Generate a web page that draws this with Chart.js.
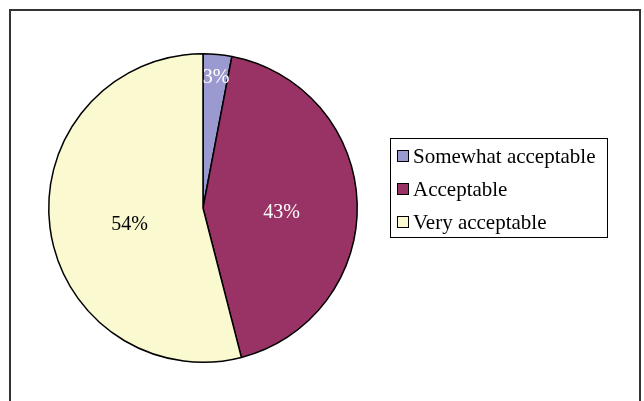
<!DOCTYPE html>
<html>
<head>
<meta charset="utf-8">
<script src="https://cdn.jsdelivr.net/npm/chart.js@4.4.1/dist/chart.umd.min.js"></script>
<style>
  html, body { margin: 0; padding: 0; background: #fff; }
  #marco { position: absolute; left: 9px; top: 9px; width: 628px; height: 420px;
           border: 2px solid #333; border-bottom: none; }
  #wrap { position: absolute; left: 0; top: 0; width: 644px; height: 401px; }
</style>
</head>
<body>
<div id="marco"></div>
<div id="wrap"><canvas id="grafico" width="644" height="401"></canvas></div>
<script>
// datos del grafico
var categorias = ['Somewhat acceptable', 'Acceptable', 'Very acceptable'];
var porcentajes = [3, 43, 54];
var colores = ['#9a9ad0', '#993366', '#fbf9d0'];
var coloresTexto = ['#ffffff', '#ffffff', '#000000'];
// distancia relativa de cada etiqueta al centro
var radioEtiqueta = [0.895, 0.51, 0.48];

var fuente = '"Liberation Serif", "Times New Roman", serif';

// etiquetas de porcentaje dentro de cada porcion
var pluginEtiquetas = {
    id: 'etiquetas',
    afterDatasetsDraw: function(chart){
        var ctx = chart.ctx;
        var meta = chart.getDatasetMeta(0);
        ctx.save();
        ctx.font = '20px ' + fuente;
        ctx.textAlign = 'center';
        ctx.textBaseline = 'middle';
        meta.data.forEach(function(arc, i){
            var p = arc.getProps(['x', 'y', 'startAngle', 'endAngle', 'outerRadius']);
            var ang = (p.startAngle + p.endAngle) / 2;
            var r = p.outerRadius * radioEtiqueta[i];
            ctx.fillStyle = coloresTexto[i];
            ctx.fillText(porcentajes[i] + '%', p.x + Math.cos(ang) * r, p.y + Math.sin(ang) * r + 7);
        });
        ctx.restore();
    }
};

// leyenda con recuadro a la derecha
var pluginLeyenda = {
    id: 'leyendaCaja',
    afterDraw: function(chart){
        var ctx = chart.ctx;
        var x0 = 390, y0 = 138, w = 217, h = 99;
        ctx.save();
        ctx.fillStyle = '#fff';
        ctx.fillRect(x0, y0, w, h);
        ctx.strokeStyle = '#000';
        ctx.lineWidth = 1;
        ctx.strokeRect(x0 + 0.5, y0 + 0.5, w, h);
        ctx.font = '21px ' + fuente;
        ctx.textBaseline = 'middle';
        categorias.forEach(function(cat, i){
            var y = y0 + 18 + i * 33;
            ctx.fillStyle = colores[i];
            ctx.fillRect(397.5, y - 5.5, 11, 11);
            ctx.strokeStyle = '#000';
            ctx.strokeRect(397.5, y - 5.5, 11, 11);
            ctx.fillStyle = '#000';
            ctx.fillText(cat, 413, y + 1);
        });
        ctx.restore();
    }
};

document.addEventListener('DOMContentLoaded', function(){
    var ctx = document.getElementById('grafico').getContext('2d');
    new Chart(ctx, {
        type: 'pie',
        data: {
            labels: categorias,
            datasets: [{
                data: porcentajes,
                backgroundColor: colores,
                borderColor: '#000',
                borderWidth: 1.5,
                borderAlign: 'center'
            }]
        },
        options: {
            responsive: false,
            animation: false,
            layout: { padding: { left: 48, right: 286, top: 53, bottom: 38 } },
            plugins: {
                legend: { display: false },
                tooltip: { enabled: false }
            }
        },
        plugins: [pluginEtiquetas, pluginLeyenda]
    });
});
</script>
</body>
</html>
